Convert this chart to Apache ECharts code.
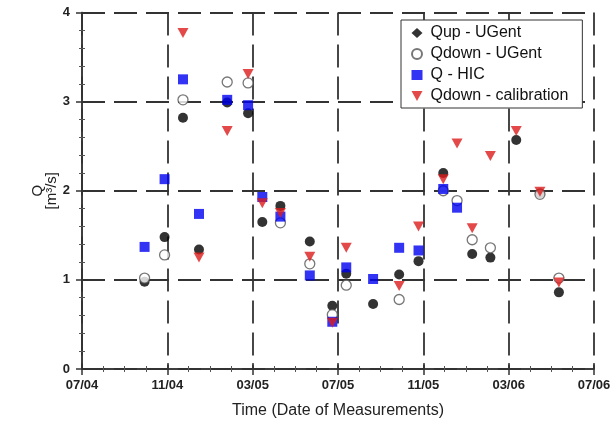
<!DOCTYPE html>
<html><head><meta charset="utf-8">
<script src="https://cdn.jsdelivr.net/npm/echarts@6/dist/echarts.min.js"></script>
<style>html,body{margin:0;padding:0;background:#fff}#c{width:614px;height:428px}</style>
</head><body><div id="c"></div>
<script>
var dates = ["2004-09-29","2004-10-28","2004-11-23","2004-12-16","2005-01-26","2005-02-23","2005-03-15","2005-04-10","2005-05-22","2005-06-23","2005-07-13","2005-08-21","2005-09-27","2005-10-25","2005-11-29","2005-12-19","2006-01-10","2006-02-05","2006-03-12","2006-04-15","2006-05-12"];
var qupUGent   = [0.98,1.48,2.82,1.34,2.99,2.87,1.65,1.83,1.43,0.71,1.07,0.73,1.06,1.21,2.20,null,1.29,1.25,2.57,1.97,0.86];
var qdownUGent = [1.02,1.28,3.02,null,3.22,3.21,null,1.64,1.18,0.61,0.94,null,0.78,null,2.00,1.89,1.45,1.36,null,1.96,1.02];
var qHIC       = [1.37,2.13,3.25,1.74,3.02,2.96,1.93,1.71,1.05,0.53,1.14,1.01,1.36,1.33,2.02,1.81,null,null,null,null,null];
var qdownCal   = [null,null,3.77,1.25,2.67,3.31,1.86,1.75,1.26,0.52,1.36,null,0.93,1.60,2.13,2.53,1.58,2.39,2.67,1.99,0.97];
var xTickLabels = ["07/04","11/04","03/05","07/05","11/05","03/06","07/06"];
var seriesNames = ["Qup - UGent","Qdown - UGent","Q - HIC","Qdown - calibration"];

function monthIndex(s){
  var p = s.split("-").map(Number);
  var dim = new Date(p[0], p[1], 0).getDate();
  return (p[0]-2004)*12 + (p[1]-7) + (p[2]-1)/dim;
}
function pairs(vals){
  var out=[];
  for(var i=0;i<dates.length;i++){ if(vals[i]!==null) out.push([monthIndex(dates[i]), vals[i]]); }
  return out;
}
var font = "Liberation Sans, Arial, sans-serif";
var gridLine = {show:true, lineStyle:{color:'#333', width:1.8, type:[23,9]}};
var chart = echarts.init(document.getElementById('c'));
chart.setOption({
  animation:false,
  grid:{left:82, right:20, top:12.5, bottom:59},
  legend:{
    orient:'vertical', left:401, top:20, padding:[5,14,4,10], itemGap:5,
    itemWidth:11, itemHeight:10, borderColor:'#333', borderWidth:1, backgroundColor:'#fff',
    textStyle:{fontFamily:font, fontSize:16, color:'#111', padding:[0,0,0,3]},
    data:[{name:seriesNames[0], icon:'diamond'},{name:seriesNames[1]},{name:seriesNames[2]},{name:seriesNames[3]}]
  },
  xAxis:[{
    type:'value', min:0, max:24, interval:4,
    name:'Time (Date of Measurements)', nameLocation:'middle', nameGap:34, nameMoveOverlap:false,
    nameTextStyle:{fontFamily:font, fontSize:16, color:'#222'},
    axisLine:{show:true, lineStyle:{color:'#333', width:1.5}},
    axisTick:{inside:true, length:6, lineStyle:{color:'#333', width:1.5}},
    minorTick:{show:true, splitNumber:4, length:3, lineStyle:{color:'#555'}},
    axisLabel:{fontFamily:font, fontSize:13, fontWeight:'bold', color:'#222', margin:10,
      formatter:function(v){return xTickLabels[Math.round(v/4)];}},
    splitLine:gridLine
  },{
    type:'value', min:0, max:24, interval:4, position:'top',
    axisLine:{show:true, lineStyle:{color:'#333', width:1.5}},
    axisTick:{inside:true, length:6, lineStyle:{color:'#333', width:1.5}},
    minorTick:{show:true, splitNumber:4, length:3, lineStyle:{color:'#555'}},
    axisLabel:{show:false}, splitLine:{show:false}
  }],
  yAxis:[{
    type:'value', min:0, max:4, interval:1,
    name:'Q\n[m³/s]', nameLocation:'middle', nameGap:23, nameRotate:90, nameMoveOverlap:false,
    nameTextStyle:{fontFamily:font, fontSize:15, color:'#222', lineHeight:14},
    axisLine:{show:true, lineStyle:{color:'#333', width:1.5}},
    axisTick:{inside:true, length:6, lineStyle:{color:'#333', width:1.5}},
    minorTick:{show:true, splitNumber:5, length:3, lineStyle:{color:'#555'}},
    axisLabel:{fontFamily:font, fontSize:13, fontWeight:'bold', color:'#222', margin:12},
    splitLine:gridLine
  },{
    type:'value', min:0, max:4, interval:1, position:'right',
    axisLine:{show:true, lineStyle:{color:'#333', width:1.5}},
    axisTick:{inside:true, length:6, lineStyle:{color:'#333', width:1.5}},
    minorTick:{show:true, splitNumber:5, length:3, lineStyle:{color:'#555'}},
    axisLabel:{show:false}, splitLine:{show:false}
  }],
  series:[
    {name:seriesNames[0], type:'scatter', symbol:'circle', symbolSize:10,
     itemStyle:{color:'#000'}, data:pairs(qupUGent)},
    {name:seriesNames[1], type:'scatter', symbol:'circle', symbolSize:10,
     itemStyle:{color:'#fff', borderColor:'#555', borderWidth:1.3}, data:pairs(qdownUGent)},
    {name:seriesNames[2], type:'scatter', symbol:'rect', symbolSize:10,
     itemStyle:{color:'#0000f0'}, data:pairs(qHIC)},
    {name:seriesNames[3], type:'scatter', symbol:'path://M0,0 L10,0 L5,9 Z', symbolSize:[11,10],
     itemStyle:{color:'#dd1c1c'}, data:pairs(qdownCal)}
  ]
});
</script></body></html>
